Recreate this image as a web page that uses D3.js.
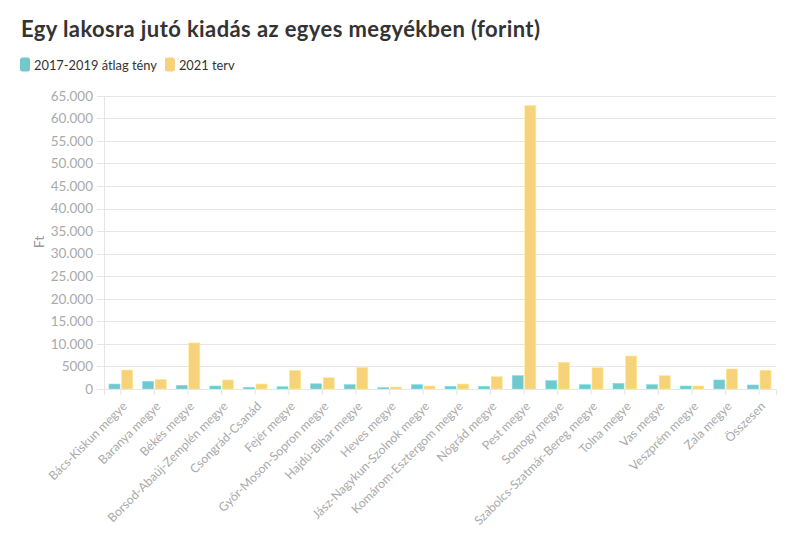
<!DOCTYPE html>
<html><head><meta charset="utf-8">
<script src="https://cdn.jsdelivr.net/npm/d3@7"></script>
<style>
html,body{margin:0;padding:0;background:#fff;}
svg{display:block;font-family:Lato,"Noto Sans",sans-serif;}
</style></head>
<body><svg id="c" width="800" height="539"></svg>
<script>
const categories = ["Bács-Kiskun megye","Baranya megye","Békés megye","Borsod-Abaúj-Zemplén megye","Csongrád-Csanád","Fejér megye","Győr-Moson-Sopron megye","Hajdú-Bihar megye","Heves megye","Jász-Nagykun-Szolnok megye","Komárom-Esztergom megye","Nógrád megye","Pest megye","Somogy megye","Szabolcs-Szatmár-Bereg megye","Tolna megye","Vas megye","Veszprém megye","Zala megye","Összesen"];
const seriesNames = ["2017-2019 átlag tény","2021 terv"];
const avg2017_2019 = [1100,1700,800,660,370,500,1150,960,300,960,590,590,2950,1850,960,1250,960,660,2000,890];
const plan2021 = [4200,2100,10200,2000,1100,4100,2500,4800,440,660,1100,2730,62800,5900,4700,7300,2950,660,4430,4140];
const yTicks = [0,5000,10000,15000,20000,25000,30000,35000,40000,45000,50000,55000,60000,65000];
const yTickLabels = ["0","5000","10.000","15.000","20.000","25.000","30.000","35.000","40.000","45.000","50.000","55.000","60.000","65.000"];
const colors = ["#72c8cd","#f6d27a"];

const svg = d3.select("#c");
const m = {left:104, right:24, top:95.7, bottom:150};
const W = 800, H = 539;
const xAxisScale = d3.scaleBand().domain(categories).range([m.left, W - m.right]);
const y = d3.scaleLinear().domain([0,65000]).range([389, m.top]);

// title
svg.append("text").attr("x",21).attr("y",37).attr("font-size",22).attr("font-weight",700)
  .attr("fill","#333").attr("textLength",519).attr("lengthAdjust","spacing")
  .text("Egy lakosra jutó kiadás az egyes megyékben (forint)");

// legend (font sized so the first entry spans like the reference)
const probe = svg.append("text").attr("font-size",14).text(seriesNames[0]);
const legSize = 14 * 123 / probe.node().getComputedTextLength();
probe.remove();
let lx = 20;
seriesNames.forEach((s,i)=>{
  svg.append("rect").attr("x",lx).attr("y",57.5).attr("width",10).attr("height",14).attr("rx",2.5).attr("fill",colors[i]);
  const t = svg.append("text").attr("x",lx+14).attr("y",70).attr("font-size",legSize).attr("fill","#333").text(s);
  lx += 14 + t.node().getComputedTextLength() + 8;
});

// gridlines
svg.append("g").selectAll("line").data(yTicks).join("line")
  .attr("x1",97).attr("x2",W-m.right).attr("y1",d=>Math.round(y(d))+0.5).attr("y2",d=>Math.round(y(d))+0.5)
  .attr("stroke","#e6e6e6").attr("stroke-width",1);
svg.append("line").attr("x1",m.left+0.5).attr("x2",m.left+0.5).attr("y1",m.top).attr("y2",389).attr("stroke","#e6e6e6");

// y labels
const yAxis = d3.axisLeft(y).tickValues(yTicks).tickFormat((d,i)=>yTickLabels[i]).tickSize(0).tickPadding(0);
const ya = svg.append("g").attr("transform","translate(93,0)").call(yAxis);
ya.select(".domain").remove();
ya.selectAll("text").attr("font-size",13.5).attr("fill","#aaa").attr("font-family","Lato, 'Noto Sans', sans-serif");

svg.append("text").attr("transform","translate(44,242) rotate(-90)").attr("text-anchor","middle")
  .attr("font-size",14).attr("fill","#999").text("Ft");

// bars
const inner = 11, gap = 1.6;
const g = svg.append("g");
categories.forEach((c,i)=>{
  const cx = xAxisScale(c) + xAxisScale.bandwidth()/2;
  [avg2017_2019[i], plan2021[i]].forEach((v,k)=>{
    const bx = k===0 ? cx - gap/2 - inner : cx + gap/2;
    g.append("rect").attr("x",bx).attr("y",y(v)).attr("width",inner).attr("height",y(0)-y(v))
      .attr("fill",colors[k]).attr("stroke",d3.color(colors[k]).brighter(0.3)).attr("stroke-width",0.6);
  });
});

// x axis
const xa = svg.append("g").attr("transform","translate(0,389)")
  .call(d3.axisBottom(xAxisScale).tickSize(6).tickPadding(4));
xa.select(".domain").attr("stroke","#e6e6e6");
xa.selectAll(".tick line").attr("stroke","#e6e6e6");
const xt = xa.selectAll("text").attr("font-size",14).attr("fill","#aaa").attr("font-family","Lato, 'Noto Sans', sans-serif")
  .attr("text-anchor","end").attr("y",0).attr("dx","0").attr("dy","0")
  .attr("transform","translate(7,18) rotate(-45)");
// size so the longest label spans like the reference
const longest = xt.filter(d=>d==="Borsod-Abaúj-Zemplén megye").node().getComputedTextLength();
xt.attr("font-size", 14 * 164 / longest);
</script></body></html>
